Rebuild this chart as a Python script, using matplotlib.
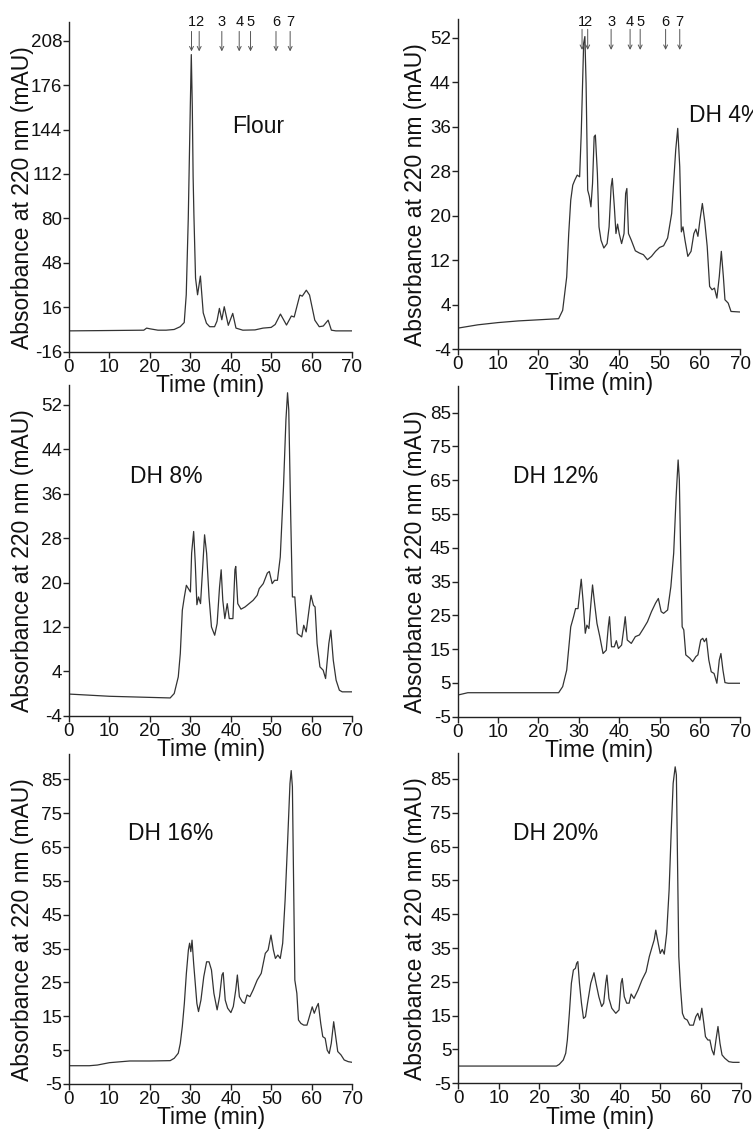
import matplotlib
matplotlib.use("Agg")
import matplotlib.pyplot as plt

plt.rcParams['font.family'] = ['Liberation Sans', 'DejaVu Sans']
plt.rcParams['axes.unicode_minus'] = False

# ---------------- data ----------------
panel_names = ["Flour", "DH 4%", "DH 8%", "DH 12%", "DH 16%", "DH 20%"]

t1 = [0, 8, 15, 18.5, 19.2, 20, 22, 24, 26, 27.5, 28.0, 28.5, 29.0, 29.5, 30.0, 30.25, 30.5, 30.7, 30.9, 31.3,
      31.8, 32.5, 33.2, 34.0, 34.8, 36.0, 36.6, 37.2, 37.8, 38.4, 39.4, 40.5, 41.3, 43, 46, 48, 50, 51.0,
      52.3, 53.8, 55.0, 55.7, 57.1, 57.7, 58.7, 59.5, 60.8, 61.9, 62.9, 64.1, 64.9, 66, 70]
y1 = [-1, -0.8, -0.6, -0.5, 1, 0.5, -0.5, -0.5, 0, 2, 3.5, 5, 25, 80, 160, 198, 160, 110, 82, 37,
      25, 38.5, 12, 4.5, 2, 2, 6, 15.2, 7, 16.4, 3, 11.6, 1, -0.5, -0.3, 1, 1.5, 3.6,
      11.1, 3.2, 9.7, 9, 24.8, 24, 28.3, 24.8, 6.7, 2, 2.5, 6.7, -0.5, -1, -1]

t2 = [0, 5, 10, 15, 20, 25, 26, 27, 27.5, 28, 28.5, 29, 29.6, 30.2, 30.6, 31.2, 31.5, 31.8, 32.2, 32.6,
      33.0, 33.4, 33.8, 34.1, 34.6, 35.0, 35.5, 36.2, 37.0, 37.5, 38.0, 38.3, 38.8, 39.2, 39.6, 40.0,
      40.6, 41.2, 41.6, 41.9, 42.3, 43.0, 44, 45, 46, 47, 48, 49, 50, 51, 52, 53, 54, 54.5, 55, 55.4,
      55.8, 56.3, 57, 57.8, 58.5, 59, 59.5, 60.0, 60.6, 61.2, 61.8, 62.4, 63, 63.6, 64.2, 64.8, 65.3,
      65.8, 66.2, 67, 67.7, 70]
y2 = [-0.2, 0.4, 0.8, 1.1, 1.3, 1.5, 3, 9, 16.8, 22.8, 25.5, 26.4, 27.3, 27, 34.8, 51, 52.2, 43.8, 24.6, 23.5,
      21.6, 25.8, 34.2, 34.5, 27.6, 18, 15.6, 14.2, 15, 18, 25.2, 26.7, 21.6, 16.8, 18.5, 16.8,
      15, 16.8, 24, 24.9, 16.8, 15.6, 13.7, 13.3, 13, 12.1, 12.7, 13.6, 14.3, 14.6, 16, 20.4, 31.8, 35.7, 28.8, 17.1,
      18, 15.6, 12.7, 13.6, 16.8, 17.6, 16.3, 19.2, 22.2, 18.9, 14.5, 7.3, 6.7, 7, 5.2, 9.1, 13.6,
      9.1, 4.9, 4.3, 2.8, 2.7]

t3 = [0, 10, 20, 25, 26, 27, 27.5, 28, 28.5, 29, 29.5, 30, 30.3, 30.8, 31.2, 31.6, 32, 32.5, 33, 33.5, 34,
      34.6, 35.2, 36, 36.6, 37.2, 37.6, 38.0, 38.5, 39.1, 39.6, 40.5, 41.0, 41.2, 41.7, 42.5, 43.5, 44.5,
      45.5, 46.5, 47, 48, 49, 49.5, 50.2, 50.8, 51.5, 52.2, 53, 53.6, 54.0, 54.3, 54.8, 55.2, 55.8, 56.4,
      57.5, 58, 58.6, 59.4, 59.8, 60.4, 60.8, 61.3, 62, 62.8, 63.4, 64.2, 64.7, 65.3, 66, 66.8, 67.5, 70]
y3 = [-0.1, -0.5, -0.7, -0.8, 0, 3, 7.2, 15, 17.4, 19.5, 18.9, 18.3, 25.3, 29.2, 23.5, 16, 17.4, 16.2, 22.3, 28.6, 25.3,
      17.4, 12, 10.5, 12.6, 19.2, 22.3, 16.8, 13.5, 16.2, 13.5, 13.5, 22.3, 22.9, 16.2, 15.2, 15.6, 16.2,
      16.8, 17.7, 18.9, 19.8, 21.7, 22, 19.8, 20.4, 20.4, 24.6, 37.3, 49.3, 54.2, 51.1, 31.3, 17.4, 17.4, 10.8,
      10.2, 12.3, 11.1, 15.6, 17.7, 15.9, 15.6, 9, 4.8, 4.2, 2.7, 9, 11.4, 6, 2.4, 0.6, 0.3, 0.3]

t4 = [0, 2.5, 10, 20, 25, 26, 27, 28, 28.7, 29.2, 29.8, 30.3, 30.6, 31.1, 31.6, 32, 32.5, 33, 33.4, 33.9,
      34.5, 35.2, 36, 36.8, 37.3, 37.6, 38.1, 38.8, 39.3, 39.8, 40.6, 41.2, 41.5, 42, 43, 44, 45, 46, 47,
      48, 49, 49.7, 50.4, 51, 52, 52.8, 53.5, 54.1, 54.6, 54.9, 55.3, 55.6, 56, 56.5, 57.5, 58.2, 59, 59.5,
      60.2, 60.7, 61.1, 61.6, 62.2, 62.8, 63.5, 64.2, 64.8, 65.2, 65.7, 66.2, 67, 70]
y4 = [1.4, 2.1, 2.1, 2.1, 2.1, 3.9, 8.8, 21.6, 24.6, 27, 27, 32.5, 35.7, 28.6, 19.7, 22.1, 21.1, 28.6, 34, 28.6,
      22.6, 18.7, 13.7, 14.7, 21.6, 24.6, 15.7, 15.7, 17.5, 15.2, 16.2, 21.6, 24.6, 17.7, 16.7, 18.7, 19.2, 21.1, 23.1,
      26.1, 28.6, 30, 26.1, 25.6, 26.6, 33.5, 43.4, 60.1, 71, 65.1, 38.4, 21.6, 20.7, 13.3, 12.3, 11.3, 12.8, 13.3,
      17.7, 18.2, 17.2, 18.2, 11.8, 8.3, 7.8, 4.9, 11.8, 13.7, 8.8, 5.1, 4.9, 4.9]

t5 = [0, 5, 7, 10, 15, 20, 25, 26, 27, 27.5, 28, 28.5, 29, 29.5, 29.8, 30.1, 30.4, 30.8, 31.2, 31.6, 32,
      32.6, 33.3, 34, 34.6, 35.2, 35.8, 36.6, 37.2, 37.8, 38.1, 38.6, 39.2, 40, 40.6, 41.2, 41.6, 42.1,
      42.8, 43.4, 44, 44.7, 45.5, 46.5, 47.5, 48.5, 49.2, 49.9, 50.5, 51.0, 51.6, 52.2, 52.8, 53.4, 54.0,
      54.6, 54.9, 55.2, 55.5, 55.8, 56.3, 56.7, 57.3, 58, 58.8, 59.4, 60.1, 60.6, 61.2, 61.6, 62.2, 62.7,
      63.3, 63.8, 64.3, 64.8, 65.4, 65.9, 66.4, 67.2, 68, 69, 70]
y5 = [0.4, 0.4, 0.6, 1.3, 1.8, 1.8, 1.9, 2.6, 4.1, 7, 12, 18.8, 27.7, 34.6, 36.6, 34.1, 37.5, 30.6, 24.7, 18.8, 16.4,
      19.8, 26.7, 31.1, 31.1, 28.7, 21.8, 16.9, 20.8, 27.2, 27.9, 19.8, 17.4, 16.1, 17.9, 22.8, 27.2, 20.8,
      19.3, 18.8, 21.3, 20.8, 22.8, 25.7, 27.7, 33.6, 34.6, 39, 34.6, 32.1, 33.1, 32.1, 36.6, 49.4, 66.1,
      83.8, 87.6, 82.8, 54.3, 25.7, 21.8, 13.9, 12.9, 12.4, 12.4, 14.9, 17.8, 15.9, 17.8, 18.8, 12.9, 9,
      8.5, 5, 4, 7, 13.4, 9, 4.6, 3.6, 2.1, 1.6, 1.4]

t6 = [0, 24.3, 25, 26, 26.6, 27, 27.5, 28, 28.5, 29, 29.3, 29.6, 30.0, 30.5, 31, 31.5, 32, 32.8, 33.6, 34.1,
      34.8, 35.5, 36, 36.5, 36.8, 37.3, 38, 39, 39.8, 40.3, 40.6, 41.1, 41.7, 42.3, 42.8, 43.5, 44.5, 45.5,
      46.5, 47.3, 48, 48.5, 48.9, 49.5, 50, 50.5, 51, 51.6, 52.2, 52.7, 53.2, 53.7, 54.0, 54.3, 54.6, 55,
      55.5, 56, 56.7, 57.3, 58.2, 58.8, 59.3, 59.8, 60.3, 60.8, 61.2, 61.8, 62.3, 62.8, 63.3, 63.8, 64.3,
      64.8, 65.3, 66, 67, 68, 69.5]
y6 = [0.1, 0.1, 0.6, 1.9, 3.9, 7.8, 15.7, 24.6, 28.5, 29, 30.5, 31, 24.6, 18.7, 14.2, 14.7, 18.7, 24.6, 27.7, 24.6,
      20.6, 17.7, 18.7, 24.6, 27, 20.1, 17.2, 15.7, 16.7, 24.6, 26, 20.6, 18.7, 18.7, 21.4, 20.1, 22.6, 25.6,
      28, 32.5, 35.4, 37.4, 40.3, 36.4, 33.4, 34.6, 33.2, 39.4, 52.2, 68.9, 83.7, 88.6, 86.2, 59.1, 32.5, 23.6,
      15.7, 14.2, 13.7, 12.2, 12.2, 14.7, 15.7, 13.7, 17.2, 12.7, 8.8, 7.8, 7.8, 4.9, 3.4, 7.8, 11.8,
      6.8, 3.4, 2.4, 1.4, 1.2, 1.2]

yticks_flour = [-16, 16, 48, 80, 112, 144, 176, 208]
yticks_small = [-4, 4, 12, 20, 28, 36, 44, 52]
yticks_large = [-5, 5, 15, 25, 35, 45, 55, 65, 75, 85]
xticks = [0, 10, 20, 30, 40, 50, 60, 70]

peak_labels = ["1", "2", "3", "4", "5", "6", "7"]
peaks_flour = [30.3, 32.2, 37.8, 42.1, 44.9, 51.2, 54.7]
peaks_dh4 = [30.8, 32.2, 38.0, 42.7, 45.2, 51.5, 55.0]

# ---------------- layout ----------------
W, H = 753, 1131
fig = plt.figure(figsize=(W / 100, H / 100), dpi=100)

# (left, right, top, bottom) in pixels
boxes = [
    (69, 352, 21.7, 351.7),
    (457.7, 740.3, 19.3, 349.3),
    (69, 352.3, 385, 715.7),
    (457.7, 740.3, 386, 716.7),
    (69, 352.3, 754, 1084),
    (458.3, 741, 753.3, 1083.3),
]
series = [(t1, y1), (t2, y2), (t3, y3), (t4, y4), (t5, y5), (t6, y6)]
ylims = [(-16, 221.7), (-4, 55.3), (-4, 55.6), (-5, 92.9), (-5, 92.5), (-5, 92.6)]
yticks_all = [yticks_flour, yticks_small, yticks_small, yticks_large, yticks_large, yticks_large]
name_pos = [(46.7, 146, 'center'), (57.3, 38.1, 'left'), (24.0, 39.1, 'center'),
            (24.2, 66.1, 'center'), (25.2, 69.1, 'center'), (24.1, 68.8, 'center')]

axc = '#222222'
linec = '#333333'

axes = []
for i, (l, r, tp, b) in enumerate(boxes):
    ax = fig.add_axes([l / W, 1 - b / H, (r - l) / W, (b - tp) / H])
    ax.set_facecolor('none')
    t, y = series[i]
    ax.plot(t, y, color=linec, lw=0.9)
    ax.set_xlim(0, 70)
    ax.set_ylim(*ylims[i])
    ax.set_xticks(xticks)
    ax.set_yticks(yticks_all[i])
    for s in ['top', 'right']:
        ax.spines[s].set_visible(False)
    for s in ['left', 'bottom']:
        ax.spines[s].set_color(axc)
        ax.spines[s].set_linewidth(1.0)
    ax.tick_params(direction='out', length=4.5, width=1.0, color=axc, labelsize=13.5,
                   pad=0.5, labelcolor='#111111')
    ax.set_xlabel("Time (min)", fontsize=16.5, color='#111111')
    ax.set_ylabel("Absorbance at 220 nm (mAU)", fontsize=16.5, color='#111111')
    lx = -0.124 if i % 2 == 0 else -0.11
    ax.yaxis.set_label_coords(lx, 0.468)
    ax.xaxis.set_label_coords(0.5, -0.068)
    nx, ny, ha = name_pos[i]
    ax.text(nx, ny, panel_names[i], fontsize=16.5, ha=ha, va='center', color='#111111')
    axes.append(ax)

# peak arrows
def draw_arrows(ax, xs, y_num, y_tail, y_tip):
    for lab, x in zip(peak_labels, xs):
        ax.annotate('', xy=(x, y_tip), xytext=(x, y_tail),
                    arrowprops=dict(arrowstyle='->', color='#555555', lw=0.7, mutation_scale=7,
                                    shrinkA=0, shrinkB=0),
                    annotation_clip=False)
        ax.text(x, y_num, lab, fontsize=10.5, ha='center', va='center', color='#111111', clip_on=False)

draw_arrows(axes[0], peaks_flour, 221.5, 214.7, 200.3)
draw_arrows(axes[1], peaks_dh4, 54.9, 53.5, 49.8)

fig.savefig("out.png", dpi=100)
